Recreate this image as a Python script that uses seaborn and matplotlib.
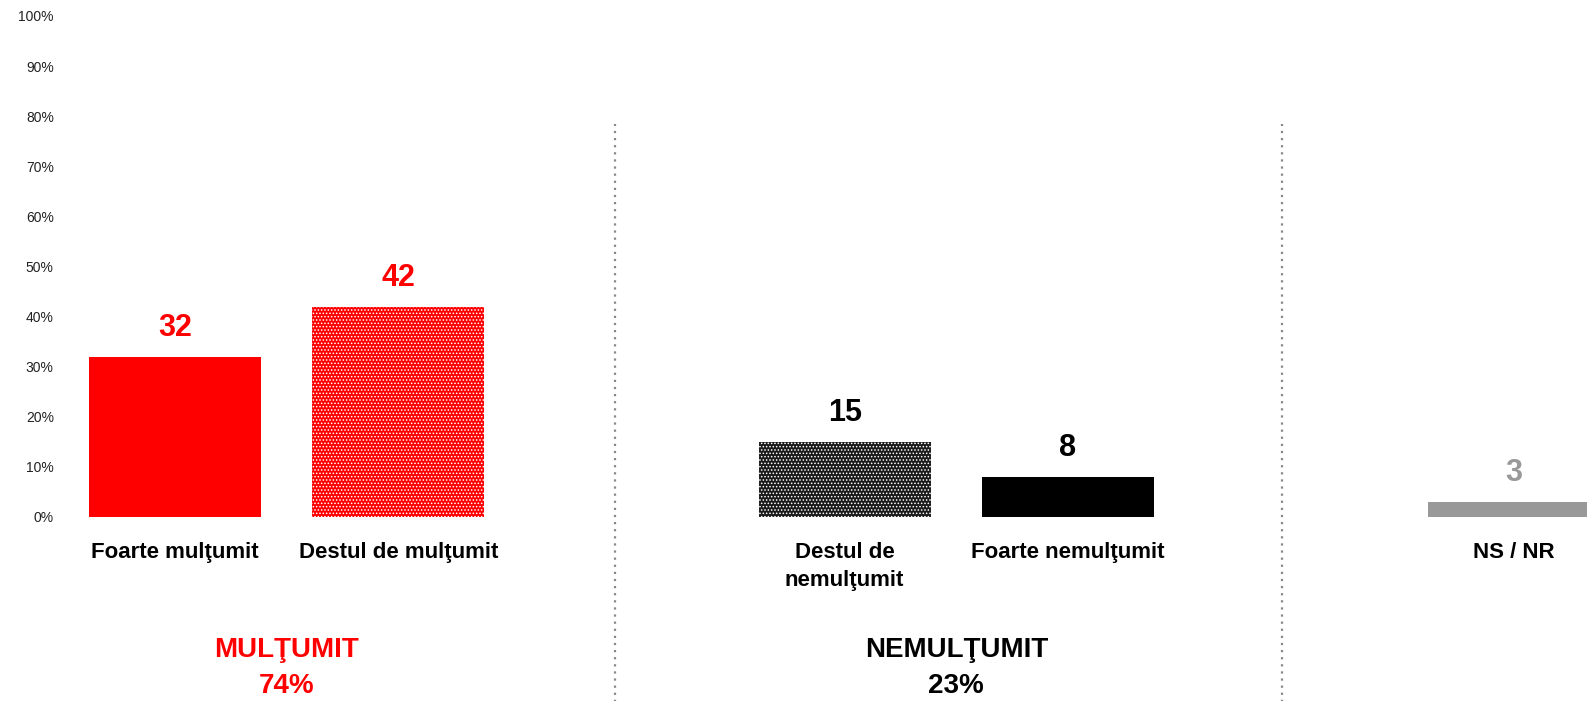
import pandas as pd
import matplotlib
matplotlib.use("Agg")
import matplotlib.pyplot as plt
import matplotlib.transforms as mtransforms
import seaborn as sns

# data
categories = ["Foarte mulţumit", "Destul de mulţumit",
              "Destul de\nnemulţumit", "Foarte nemulţumit", "NS / NR"]
values = [32, 42, 15, 8, 3]
groups = ["MULŢUMIT", "MULŢUMIT", "NEMULŢUMIT", "NEMULŢUMIT", "NS"]
group_titles = ["MULŢUMIT", "NEMULŢUMIT"]

# slot order with blank spacers between groups
order = ["Foarte mulţumit", "Destul de mulţumit", " ",
         "Destul de\nnemulţumit", "Foarte nemulţumit", "  ", "NS / NR"]

bar_style = {
    "Foarte mulţumit": ("#ff0000", None),
    "Destul de mulţumit": ("#ff0000", "....."),
    "Destul de\nnemulţumit": ("#1a1a1a", "....."),
    "Foarte nemulţumit": ("#000000", None),
    "NS / NR": ("#999999", None),
}
label_colors = {"MULŢUMIT": "#ff0000", "NEMULŢUMIT": "#000000", "NS": "#999999"}

df = pd.DataFrame({"cat": categories, "val": values, "grp": groups})

sns.set_style("white")
plt.rcParams["font.family"] = ["Liberation Sans", "DejaVu Sans"]
plt.rcParams["hatch.linewidth"] = 0.7

fig = plt.figure(figsize=(15.87, 7.01), dpi=100)
ax = fig.add_axes([0.04, 0.2625, 0.96, 0.7147])

sns.barplot(data=df, x="cat", y="val", order=order, width=0.77,
            color="#ff0000", ax=ax, errorbar=None)

# style each bar and put its value on top
for p in ax.patches:
    idx = int(round(p.get_x() + p.get_width() / 2))
    cat = order[idx]
    row = df[df["cat"] == cat].iloc[0]
    face, hatch = bar_style[cat]
    p.set_facecolor(face)
    p.set_linewidth(0)
    if hatch:
        p.set_hatch(hatch)
        p.set_edgecolor("white")
    ax.annotate(f"{row['val']}", (idx, row["val"]), xytext=(0, 10),
                textcoords="offset points", ha="center", va="bottom",
                fontsize=22, fontweight="bold", color=label_colors[row["grp"]])

ax.set_xlim(-0.5, 6.326)
ax.set_ylim(0, 100)
ax.set_yticks(range(0, 101, 10))
ax.set_yticklabels([f"{v}%" for v in range(0, 101, 10)], fontsize=10, color="#222222")
ax.set_xticks(range(len(order)))
ax.set_xticklabels(order, fontsize=16, fontweight="bold", color="#000000")
for t in ax.get_xticklabels():
    t.set_linespacing(1.45)
ax.tick_params(axis="x", length=0, pad=18)
ax.tick_params(axis="y", length=0, pad=7)
ax.set_xlabel("")
ax.set_ylabel("")
sns.despine(ax=ax, left=True, bottom=True)

# dotted separators between groups
for xs in [1.97, 4.96]:
    ax.plot([xs, xs], [-37, 78.5], linestyle=(0, (1, 2.2)), color="#888888",
            linewidth=1.6, clip_on=False)

# group titles with totals
trans = mtransforms.blended_transform_factory(ax.transData, fig.transFigure)
for g in group_titles:
    sub = df[df["grp"] == g]
    xpos = sum(order.index(c) for c in sub["cat"]) / len(sub)
    col = label_colors[g]
    ax.text(xpos, 1 - 650 / 701, g, transform=trans, ha="center", va="center",
            fontsize=20, fontweight="bold", color=col)
    ax.text(xpos, 1 - 686 / 701, f"{sub['val'].sum()}%", transform=trans,
            ha="center", va="center", fontsize=20, fontweight="bold", color=col)

fig.savefig("out.png", dpi=100)
